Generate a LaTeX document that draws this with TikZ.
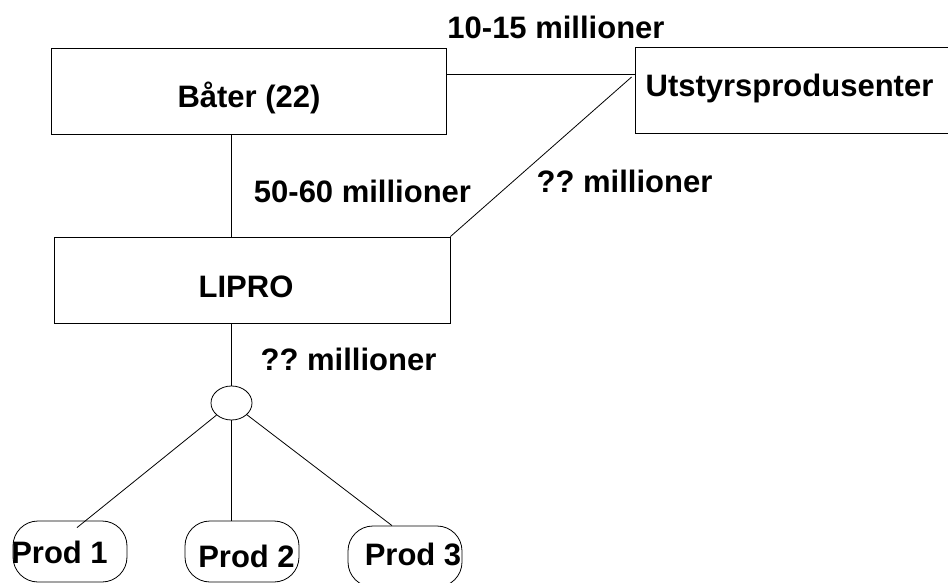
\documentclass[tikz,border=0pt]{standalone}
\usepackage{fontspec}
\setmainfont{Liberation Sans}
\usetikzlibrary{positioning, shapes.geometric, calc}
\frenchspacing

\begin{document}
\begin{tikzpicture}[x=1pt, y=-1pt,
  box/.style={rectangle, draw=black, line width=0.8pt, inner sep=0pt},
  orgbox/.style={box, minimum height=86pt},
  prodbox/.style={box, rounded corners=25pt, minimum width=114pt, minimum height=61pt},
  hubnd/.style={ellipse, draw=black, line width=0.8pt, minimum width=41pt, minimum height=34pt, inner sep=0pt},
  tx/.style={font=\fontsize{31}{37}\selectfont\bfseries, inner sep=0pt, anchor=base},
  link/.style={line width=0.8pt, black},
]
  \useasboundingbox (0,0) rectangle (948,583);
  \clip (0,0) rectangle (948,583);

  % boxes
  \node[orgbox, minimum width=395pt] (bater) at (248.5,91) {};
  \node[orgbox, minimum width=330pt] (utstyr) at (800,90) {};
  \node[orgbox, minimum width=396pt] (lipro) at (252,280) {};
  \node[hubnd] (hub) at (231.5,403) {};
  \node[prodbox] (p1) at (70,551.5) {};
  \node[prodbox] (p2) at (242,551.5) {};
  \node[prodbox] (p3) at (405,556.5) {};

  % box texts
  \node[tx] (batertxt) at (249,108) {Båter (22)};
  \node[tx] (utstyrtxt) at (789.5,97) {Utstyrsprodusenter};
  \node[tx] (liprotxt) at (246,297) {LIPRO};
  \node[tx] (p1txt) at (59.5,563) {Prod 1};
  \node[tx] (p2txt) at (246.5,567) {Prod 2};
  \node[tx] (p3txt) at (413,565) {Prod 3};

  % links between the boxes
  \draw[link] ([yshift=17pt]bater.east) -- ([yshift=16pt]utstyr.west);
  \draw[link] ([xshift=-3pt,yshift=13pt]utstyr.west) -- (lipro.north east);
  \draw[link] (bater.south -| hub.north) -- (lipro.north -| hub.north);
  \draw[link] (lipro.south -| hub.north) -- (hub.north);

  % fan out to the products
  \draw[link] (hub) -- ([xshift=7pt,yshift=-7pt]p1.north);
  \draw[link] (hub.south) -- (hub.south |- p2.north);
  \draw[link] (hub) -- ([xshift=-13pt]p3.north);

  % amounts
  \node[tx] (amtup) at (556,39) {10-15 millioner};
  \node[tx] (amtbl) at (362.5,202) {50-60 millioner};
  \node[tx] (amtul) at (624.5,193) {?? millioner};
  \node[tx] (amtlp) at (348.5,370) {?? millioner};
\end{tikzpicture}
\end{document}
